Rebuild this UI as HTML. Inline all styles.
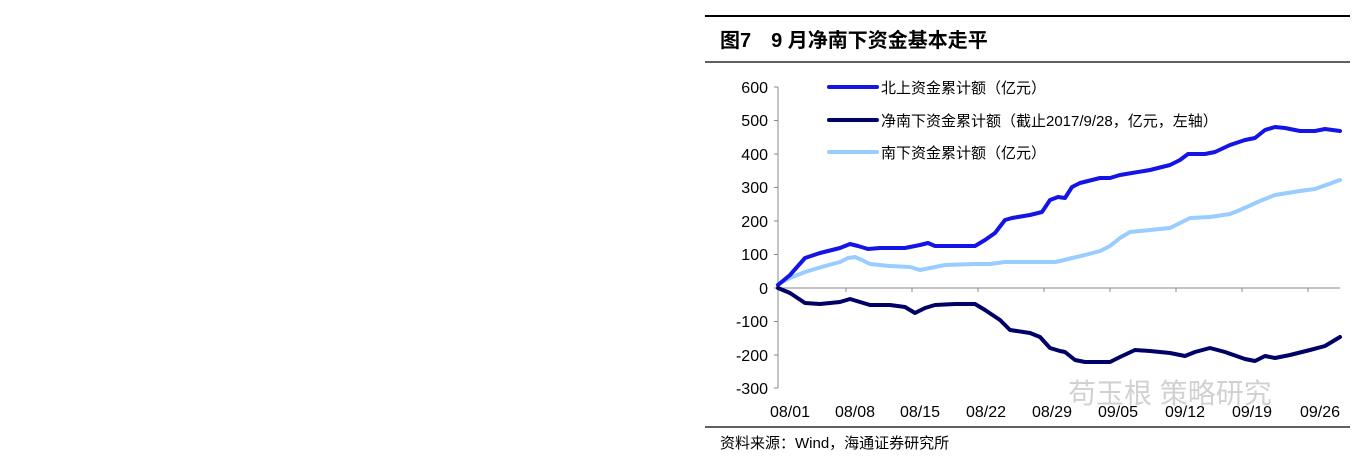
<!DOCTYPE html>
<html><head><meta charset="utf-8"><style>
body{margin:0;background:#fff;width:1368px;height:462px;overflow:hidden}
svg{position:absolute;left:0;top:0}
text{font-family:"Liberation Sans","Noto Sans CJK SC",sans-serif}
</style></head><body>
<svg width="1368" height="462" viewBox="0 0 1368 462">
<line x1="705" y1="16" x2="1350" y2="16" stroke="#000" stroke-width="2"/>
<text x="720" y="47" font-size="20" font-weight="bold" fill="#000">图7　9 月净南下资金基本走平</text>
<line x1="705" y1="62" x2="1350" y2="62" stroke="#000" stroke-width="1.2"/>
<!-- axes -->
<line x1="778" y1="87" x2="778" y2="388" stroke="#888" stroke-width="1"/>
<g stroke="#888" stroke-width="1">
<line x1="774" y1="87" x2="778" y2="87"/><line x1="774" y1="120.5" x2="778" y2="120.5"/><line x1="774" y1="154" x2="778" y2="154"/><line x1="774" y1="187.5" x2="778" y2="187.5"/><line x1="774" y1="221" x2="778" y2="221"/><line x1="774" y1="254.5" x2="778" y2="254.5"/><line x1="774" y1="288" x2="778" y2="288"/><line x1="774" y1="321.5" x2="778" y2="321.5"/><line x1="774" y1="355" x2="778" y2="355"/><line x1="774" y1="388" x2="778" y2="388"/>
<line x1="778" y1="288" x2="1340" y2="288"/>
<line x1="846" y1="288" x2="846" y2="292"/><line x1="912" y1="288" x2="912" y2="292"/><line x1="978" y1="288" x2="978" y2="292"/><line x1="1044" y1="288" x2="1044" y2="292"/><line x1="1110" y1="288" x2="1110" y2="292"/><line x1="1176" y1="288" x2="1176" y2="292"/><line x1="1242" y1="288" x2="1242" y2="292"/><line x1="1308" y1="288" x2="1308" y2="292"/>
</g>
<g font-size="16" fill="#000" text-anchor="end">
<text x="768" y="93">600</text><text x="768" y="126">500</text><text x="768" y="160">400</text><text x="768" y="193">300</text><text x="768" y="227">200</text><text x="768" y="260">100</text><text x="768" y="294">0</text><text x="768" y="327">-100</text><text x="768" y="361">-200</text><text x="768" y="394">-300</text>
</g>
<g font-size="16" fill="#000" text-anchor="middle">
<text x="790" y="417">08/01</text><text x="855" y="417">08/08</text><text x="920" y="417">08/15</text><text x="986" y="417">08/22</text><text x="1052" y="417">08/29</text><text x="1118" y="417">09/05</text><text x="1185" y="417">09/12</text><text x="1252" y="417">09/19</text><text x="1320" y="417">09/26</text>
</g>
<!-- series -->
<g fill="none" stroke-width="4" stroke-linejoin="round" stroke-linecap="round">
<polyline stroke="#99ccff" points="778,284 790,278 805,272 825,266 840,262 848,258 855,257 862,260 870,264 890,266 910,267 920,270 930,268 945,265 975,264 990,264 1005,262 1040,262 1055,262 1060,261 1068,259 1085,255 1100,251 1110,246 1120,238 1130,232 1150,230 1170,228 1180,223 1190,218 1210,217 1230,214 1240,210 1260,201 1275,195 1300,191 1315,189 1340,180"/>
<polyline stroke="#1414e6" points="778,285 790,275 805,258 820,253 840,248 850,244 858,246 868,249 880,248 905,248 920,245 928,243 935,246 945,246 975,246 985,240 995,233 1005,220 1012,218 1030,215 1042,212 1050,200 1058,197 1065,198 1072,187 1080,183 1100,178 1110,178 1120,175 1150,170 1170,165 1180,160 1188,154 1205,154 1215,152 1230,145 1245,140 1255,138 1265,130 1275,127 1285,128 1300,131 1315,131 1325,129 1340,131"/>
<polyline stroke="#000066" points="778,288 790,293 805,303 820,304 840,302 850,299 860,302 870,305 890,305 905,307 915,313 925,308 935,305 955,304 975,304 985,310 1000,320 1010,330 1030,333 1040,337 1050,348 1060,351 1065,352 1075,360 1085,362 1110,362 1120,357 1135,350 1150,351 1170,353 1185,356 1195,352 1210,348 1225,352 1245,359 1255,361 1265,356 1275,358 1290,355 1310,350 1325,346 1340,337"/>
</g>
<!-- legend -->
<g stroke-width="4" stroke-linecap="round">
<line x1="829" y1="87" x2="877" y2="87" stroke="#1414e6"/>
<line x1="829" y1="120" x2="877" y2="120" stroke="#000066"/>
<line x1="829" y1="152" x2="877" y2="152" stroke="#99ccff"/>
</g>
<g font-size="15" fill="#000">
<text x="881" y="93">北上资金累计额（亿元）</text>
<text x="881" y="126">净南下资金累计额（截止2017/9/28，亿元，左轴）</text>
<text x="881" y="158">南下资金累计额（亿元）</text>
</g>
<text x="1068" y="403" font-size="28" fill="#999" fill-opacity="0.45">苟玉根 策略研究</text>
<line x1="705" y1="427" x2="1350" y2="427" stroke="#000" stroke-width="1.2"/>
<text x="720" y="448" font-size="15" fill="#000">资料来源：Wind，海通证券研究所</text>
</svg>
</body></html>
